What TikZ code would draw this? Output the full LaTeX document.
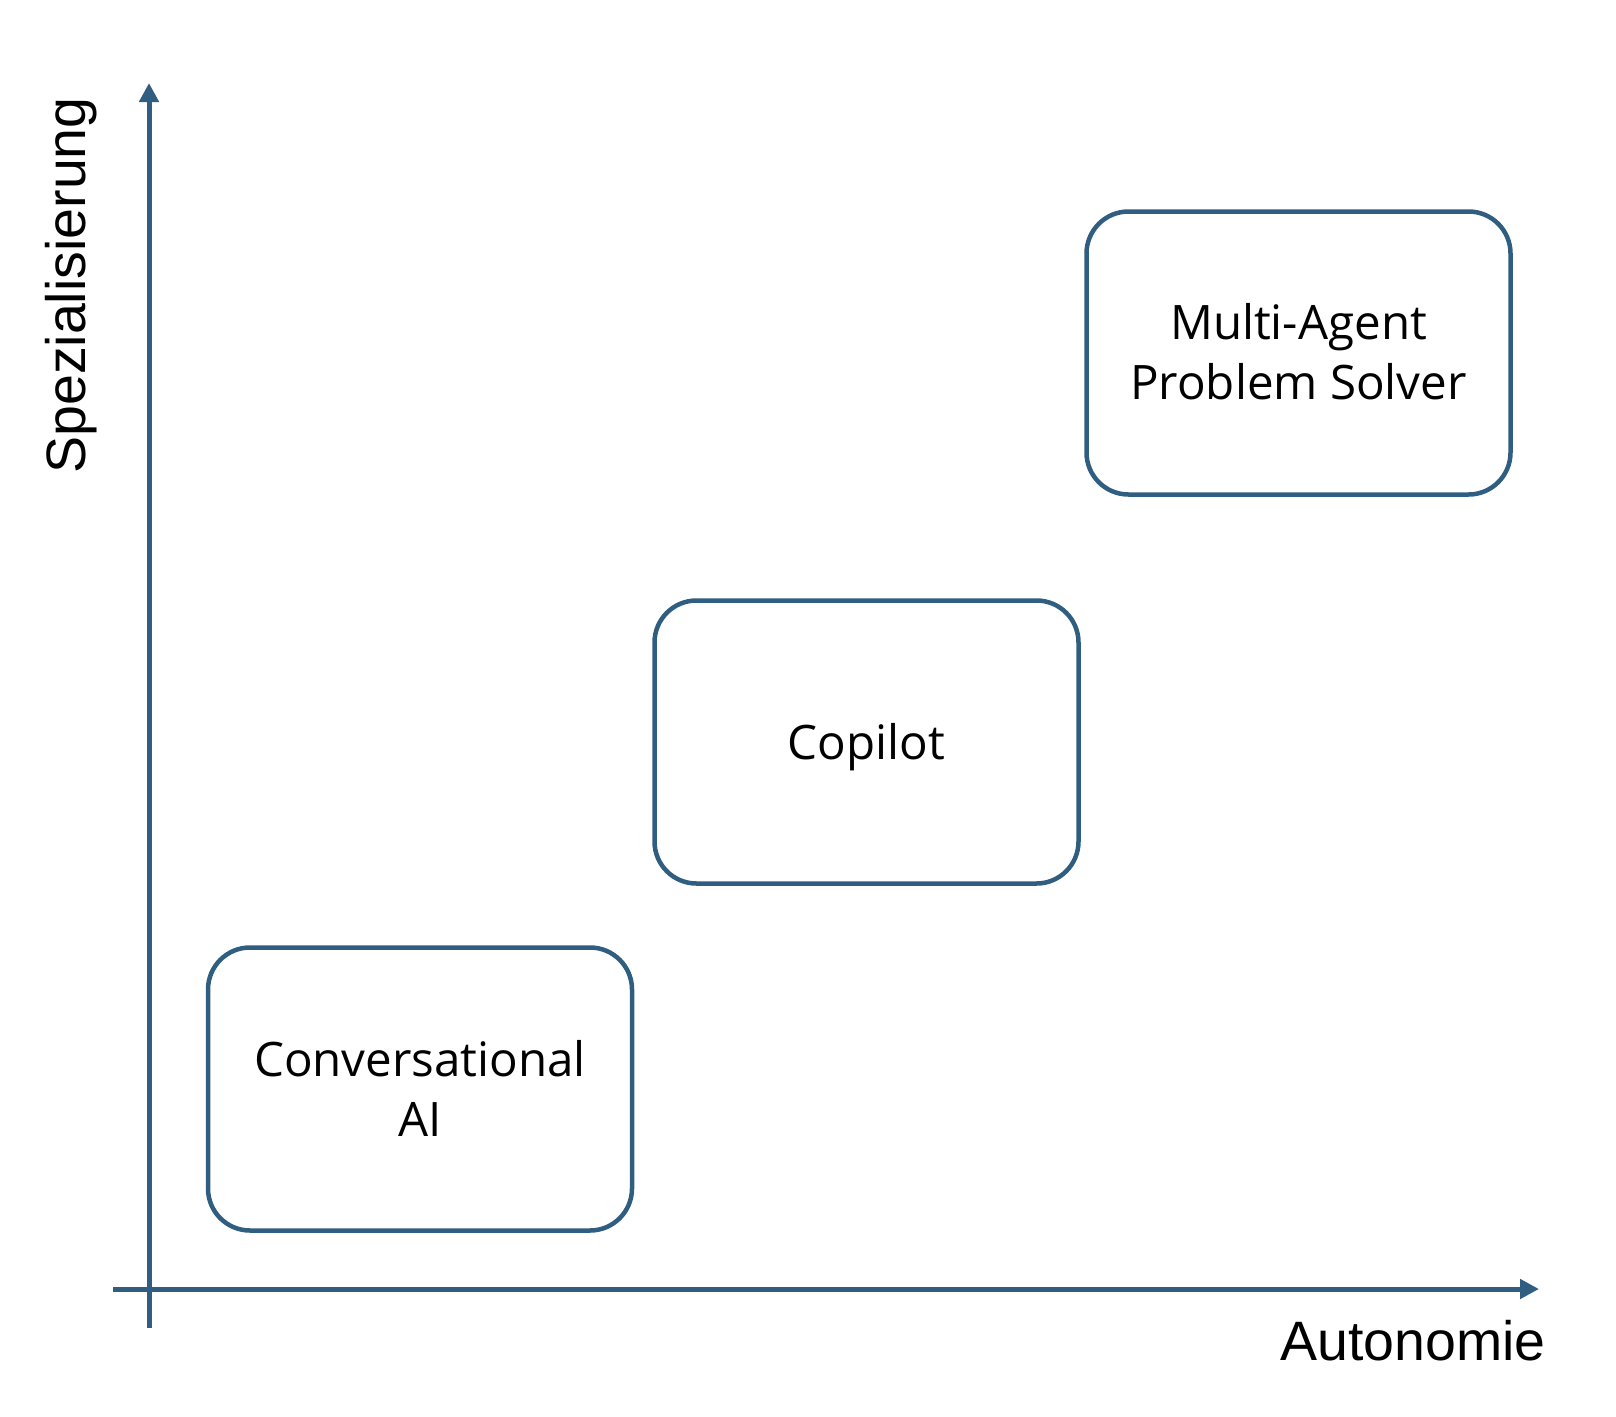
\documentclass[tikz,border=0pt]{standalone}
\usepackage{fontspec}
\setmainfont{Liberation Sans}
\newfontfamily\boxfont{Open Sans}
\usetikzlibrary{arrows.meta}
\definecolor{axisblue}{RGB}{47,94,128}
\tikzset{
  axis/.style={draw=axisblue, line width=5pt, -{Triangle[width=19pt,length=19pt]}},
  stage/.style={draw=axisblue, line width=4.5pt, rounded corners=42pt, minimum width=424pt, minimum height=283pt, inner sep=0pt},
  stagetext/.style={align=center, inner sep=0pt, font=\boxfont\fontsize{47.5}{60}\selectfont},
  axislabel/.style={font=\fontsize{55.5}{60}\selectfont, inner sep=0pt}
}
\begin{document}
\begin{tikzpicture}[x=1pt,y=-1pt]
\useasboundingbox (0,0) rectangle (1616,1416);
\coordinate (yb) at (149,1328);
\coordinate (yt) at (149,83);
\coordinate (xl) at (113,1289);
\coordinate (xr) at (1539,1289);
\draw[axis] (yb) -- (yt);
\draw[axis] (xl) -- (xr);
\node[stage] (conv) at (420,1089) {};
\node[stage] (copilot) at (866.5,742) {};
\node[stage] (multi) at (1298.5,353) {};
\node[stagetext, anchor=base] (convt) at (420,1136) {Conversational\\AI};
\node[stagetext, anchor=base] (copilott) at (866.5,759) {Copilot};
\node[stagetext, anchor=base] (multit) at (1298.5,399) {Multi-Agent\\Problem Solver};
\node[axislabel, anchor=base west] (auto) at (1280,1360) {Autonomie};
\node[axislabel, rotate=90, anchor=base] (spez) at (85,285.5) {Spezialisierung};
\end{tikzpicture}
\end{document}
